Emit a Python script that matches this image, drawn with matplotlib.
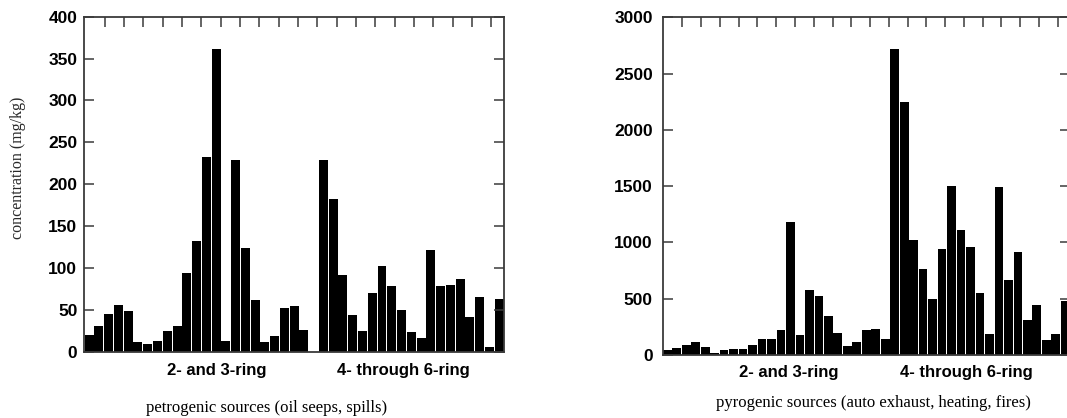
import numpy as np
import matplotlib
matplotlib.use("Agg")
import matplotlib.pyplot as plt

# PAH concentrations, mg/kg
petrogenic = [20, 30, 45, 56, 48, 11, 9, 12, 24, 30, 94, 132, 232, 362, 13,
              229, 124, 62, 11, 19, 52, 54, 26, 0, 229, 182, 91, 44, 24, 70,
              102, 78, 49, 23, 16, 121, 78, 79, 87, 41, 65, 5, 63]
pyrogenic = [44, 59, 89, 112, 71, 15, 47, 57, 56, 92, 142, 145, 225, 1180,
             180, 577, 527, 349, 192, 80, 112, 222, 234, 139, 2715, 2248,
             1026, 766, 494, 944, 1503, 1109, 961, 547, 186, 1494, 663, 911,
             311, 444, 133, 186, 482]
group_labels = ["2- and 3-ring", "4- through 6-ring"]
captions = ["petrogenic sources (oil seeps, spills)",
            "pyrogenic sources (auto exhaust, heating, fires)"]

W, H = 1067, 418
fig = plt.figure(figsize=(W / 100, H / 100), dpi=100)

sans = "Liberation Sans"
serif = "Liberation Serif"
spine_col = "#3a3a3a"


def px_axes(x0, x1, ytop, ybot):
    return fig.add_axes([x0 / W, (H - ybot) / H, (x1 - x0) / W, (ybot - ytop) / H])


def style(ax, vals, ymax, ystep, pad):
    x = np.arange(len(vals))
    ax.bar(x, vals, width=0.92, color="black", edgecolor="none")
    ax.set_xlim(-0.5, len(vals) - 0.5)
    ax.set_ylim(0, ymax)
    ax.set_yticks(np.arange(0, ymax + 1, ystep))
    ax.set_yticklabels([str(v) for v in range(0, ymax + 1, ystep)],
                       fontfamily=sans, fontweight="bold", fontsize=12.5)
    # top ticks don't line up with the bars in the original
    ax.set_xticks(1.6 + 1.98 * np.arange(21))
    ax.set_xticklabels([])
    ax.tick_params(axis="y", direction="in", length=7, width=1.1,
                   colors=spine_col, labelcolor="black", right=True, pad=pad)
    ax.tick_params(axis="x", direction="in", length=7, width=1.1,
                   colors=spine_col, top=True, bottom=False)
    for s in ax.spines.values():
        s.set_color(spine_col)
        s.set_linewidth(1.3)


ax1 = px_axes(84.3, 504, 16.8, 351.5)
style(ax1, petrogenic, 400, 50, 5)
ax2 = px_axes(662.5, 1070, 17.3, 355)
style(ax2, pyrogenic, 3000, 500, 7)

bold = dict(fontfamily=sans, fontweight="bold", fontsize=12, ha="center", va="center")
fig.text(217 / W, 1 - 370 / H, group_labels[0], **bold)
fig.text(403 / W, 1 - 370 / H, group_labels[1], **bold)
fig.text(789 / W, 1 - 372 / H, group_labels[0], **bold)
fig.text(966 / W, 1 - 372 / H, group_labels[1], **bold)

fig.text(267 / W, 1 - 408 / H, captions[0], fontfamily=serif, fontsize=12,
         ha="center", va="center")
fig.text(873 / W, 1 - 403 / H, captions[1], fontfamily=serif, fontsize=12,
         ha="center", va="center")
fig.text(18 / W, 1 - 168 / H, "concentration (mg/kg)", fontfamily=serif,
         fontsize=11.5, rotation=90, ha="center", va="center", color="#2a2a2a")

fig.savefig("out.png", dpi=100)
